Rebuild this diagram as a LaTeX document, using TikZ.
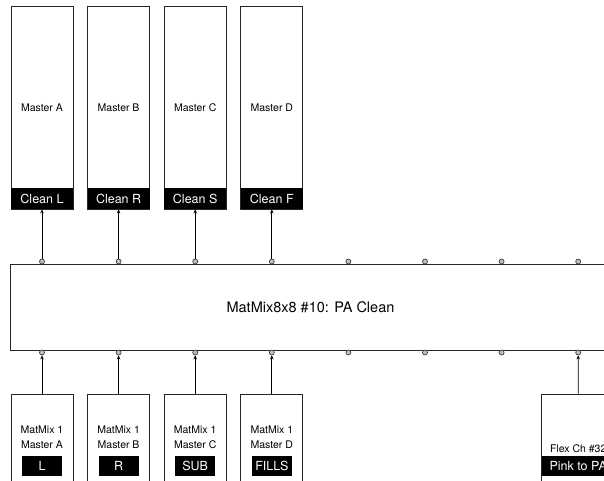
\documentclass[tikz,border=0pt]{standalone}
\usepackage{fontspec}
\setmainfont{TeX Gyre Heros}
\usetikzlibrary{arrows.meta}
\tikzset{
  box/.style={draw=black!85, line width=0.8pt, minimum width=62pt, inner sep=0pt},
  masterbox/.style={box, minimum height=203pt, font=\fontsize{10.5}{15}\selectfont},
  cleanbar/.style={fill=black, text=white, minimum width=62pt, minimum height=21pt, inner sep=0pt, font=\fontsize{12.5}{15}\selectfont},
  tagbar/.style={fill=black, text=white, minimum width=40pt, minimum height=20pt, inner sep=0pt, font=\fontsize{12.5}{15}\selectfont},
  port/.style={circle, draw=black!75, fill=black!25, line width=0.7pt, minimum size=5pt, inner sep=0pt},
  srcbox/.style={box, minimum height=100pt},
  srctext/.style={align=center, font=\fontsize{10.5}{15}\selectfont},
  wire/.style={line width=0.7pt, black},
  >={Stealth[length=4pt,width=3.5pt]}
}
\begin{document}
\begin{tikzpicture}[x=1pt,y=-1pt]
\useasboundingbox (0,0) rectangle (604,481);
\clip (0,0) rectangle (604,481);
% Master outputs
\foreach \n/\i/\lab in {A/0/L, B/1/R, C/2/S, D/3/F}{
  \node[masterbox] (m\n) at (42+76.6*\i,107.5) {Master \n};
  \node[cleanbar, anchor=south] (c\n) at (m\n.south) {Clean \lab};
}
% Matrix mixer
\node[box, minimum width=601pt, minimum height=86pt, font=\fontsize{14.5}{17}\selectfont] (mix) at (310.5,307) {MatMix8x8 \#10: PA Clean};
\foreach \i in {0,...,7}{
  \node[port] (t\i) at (42+76.6*\i,261.5) {};
  \node[port] (b\i) at (42+76.6*\i,352.5) {};
}
\foreach \i/\n in {0/A,1/B,2/C,3/D}
  \draw[->, wire] (t\i.north) -- (t\i.north |- c\n.south);
% Sources
\foreach \n/\i/\lab in {A/0/L, B/1/R, C/2/SUB, D/3/FILLS}{
  \node[srcbox] (s\n) at (42+76.6*\i,444) {};
  \node[srctext] (x\n) at (42+76.6*\i,437.5) {MatMix 1\\Master \n};
  \node[tagbar] (l\n) at (42+76.6*\i,466) {\lab};
  \draw[->, wire] (s\n.north) -- (b\i.south);
}
\node[srcbox, minimum width=73pt] (sF) at (578.2,444) {};
\node[srctext] (xF) at (578.2,449) {Flex Ch \#32};
\node[tagbar, minimum width=73pt] (lF) at (578.2,466) {Pink to PA};
\draw[->, wire] (sF.north) -- (b7.south);
\end{tikzpicture}
\end{document}
